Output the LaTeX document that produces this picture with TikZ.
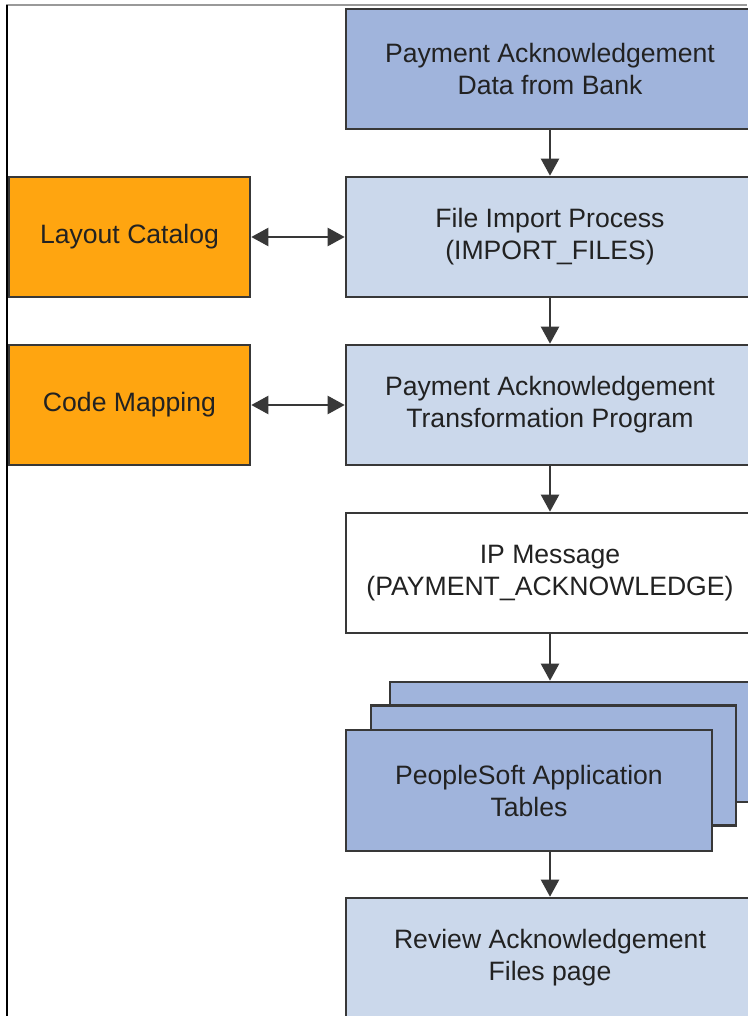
\documentclass[tikz,border=0pt]{standalone}
\usepackage{fontspec}
\setmainfont{Liberation Sans}
\usetikzlibrary{arrows.meta}
\definecolor{darkblue}{HTML}{A0B4DC}
\definecolor{lightblue}{HTML}{CBD8EB}
\definecolor{orangebox}{HTML}{FFA510}
\definecolor{edge}{HTML}{383838}
\definecolor{txt}{HTML}{222222}
\begin{document}
\begin{tikzpicture}[x=1pt,y=-1pt,
  box/.style={draw=edge, line width=2.6pt, rectangle, inner sep=0pt, align=center,
    text=txt, font=\fontsize{26.6}{32}\selectfont, minimum height=120pt},
  wide/.style={box, minimum width=408pt},
  side/.style={box, fill=orangebox, minimum width=241pt},
  stack/.style={box, fill=darkblue, minimum width=365pt},
  conn/.style={draw=edge, line width=2.2pt, -{Triangle[width=18pt,length=17pt]}},
  dconn/.style={draw=edge, line width=2.2pt, {Triangle[width=18pt,length=17pt]}-{Triangle[width=18pt,length=17pt]}}
]
\useasboundingbox (0,0) rectangle (747,1016);
\fill[white] (0,0) rectangle (747,1016);
\draw[line width=1.5pt, color=gray!80] (6,5) -- (747,5);
\draw[line width=1.5pt, color=black] (7,5) -- (7,1016);

\node[wide, fill=darkblue] (bank) at (550,69) {Payment Acknowledgement\\Data from Bank};
\node[wide, fill=lightblue] (import) at (550,237) {File Import Process\\(IMPORT\_FILES)};
\node[wide, fill=lightblue] (trans) at (550,405) {Payment Acknowledgement\\Transformation Program};
\node[wide, fill=white] (ip) at (550,573) {IP Message\\(PAYMENT\_ACKNOWLEDGE)};
\node[side] (layout) at (129.5,237) {Layout Catalog};
\node[side] (code) at (129.5,405) {Code Mapping};

\node[stack] (back) at (572.5,742) {};
\node[stack] (mid) at (553.5,765.5) {};
\node[stack, minimum width=366pt, minimum height=121pt] (front) at (529,790.5) {PeopleSoft Application\\Tables};

\node[wide, fill=lightblue] (review) at (550,958) {Review Acknowledgement\\Files page};

\draw[conn] (bank) -- (import);
\draw[conn] (import) -- (trans);
\draw[conn] (trans) -- (ip);
\draw[conn] (ip.south) -- (ip.south |- back.north);
\draw[conn] (front.south -| review.north) -- (review.north);
\draw[dconn] (layout) -- (import);
\draw[dconn] (code) -- (trans);
\end{tikzpicture}
\end{document}
